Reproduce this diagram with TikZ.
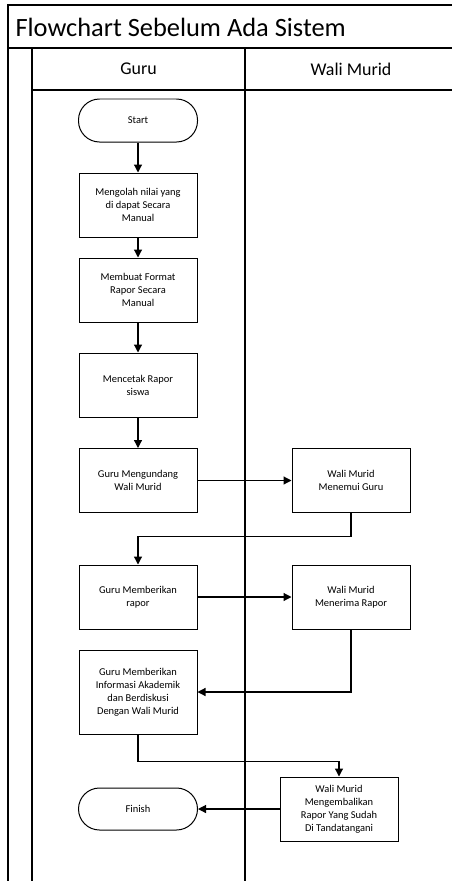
\documentclass[tikz,border=0pt]{standalone}
\usepackage{fontspec}
\setmainfont{Carlito}
\usetikzlibrary{arrows.meta}

\tikzset{
    proses/.style={draw, line width=1pt, minimum width=118bp, minimum height=64bp, align=center, font=\fontsize{10.5}{13}\selectfont},
    terminal/.style={draw, line width=1pt, rounded corners=21bp, minimum width=119bp, minimum height=43bp, font=\fontsize{10.5}{13}\selectfont},
    alur/.style={line width=1.2pt, -{Triangle[length=8bp,width=8bp]}},
    garis/.style={line width=1.2pt}
}

\begin{document}
\begin{tikzpicture}[x=1bp, y=-1bp]
    \useasboundingbox (0,0) rectangle (452,881);
    % swimlane frame
    \draw[garis] (8,881) -- (8,5) -- (452,5);
    \draw[garis] (8,48) -- (452,48);
    \draw[garis] (32,881) -- (32,48);
    \draw[garis] (32,90) -- (452,90);
    \draw[garis] (245,48) -- (245,881);
    \node[anchor=west, font=\fontsize{26.5}{30}\selectfont] (judul) at (12,27) {Flowchart Sebelum Ada Sistem};
    \node[font=\fontsize{18}{21}\selectfont] (lajurguru) at (138.5,69) {Guru};
    \node[font=\fontsize{18}{21}\selectfont] (lajurwali) at (351,69) {Wali Murid};

    % guru
    \node[terminal] (start) at (138,120.5) {Start};
    \node[proses] (olah) at (138,205) {Mengolah nilai yang\\di dapat Secara\\Manual};
    \node[proses] (format) at (138,290) {Membuat Format\\Rapor Secara\\Manual};
    \node[proses] (cetak) at (138,385) {Mencetak Rapor\\siswa};
    \node[proses] (undang) at (138,480.5) {Guru Mengundang\\Wali Murid};
    \node[proses] (beri) at (138,597) {Guru Memberikan\\rapor};
    \node[proses, minimum height=84bp] (info) at (138,692) {Guru Memberikan\\Informasi Akademik\\dan Berdiskusi\\Dengan Wali Murid};
    \node[terminal, minimum height=42bp] (finish) at (138,809) {Finish};

    % wali murid
    \node[proses] (temui) at (351,480.5) {Wali Murid\\Menemui Guru};
    \node[proses] (terima) at (351,597) {Wali Murid\\Menerima Rapor};
    \node[proses] (kembali) at (339,809) {Wali Murid\\Mengembalikan\\Rapor Yang Sudah\\Di Tandatangani};

    % alur
    \draw[alur] (start) -- (olah);
    \draw[alur] (olah) -- (format);
    \draw[alur] (format) -- (cetak);
    \draw[alur] (cetak) -- (undang);
    \draw[alur] (undang) -- (temui);
    \draw[alur] (temui.south) -- ++(0,23.5) -| (beri.north);
    \draw[alur] (beri) -- (terima);
    \draw[alur] (terima.south) |- (info.east);
    \draw[alur] (info.south) -- ++(0,27) -| (kembali.north);
    \draw[alur] (kembali) -- (finish);
\end{tikzpicture}
\end{document}
